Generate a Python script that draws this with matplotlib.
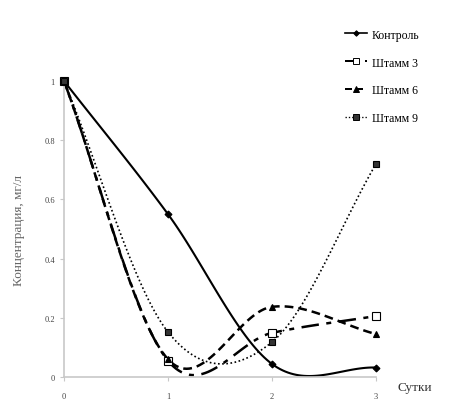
import numpy as np
import matplotlib
matplotlib.use("Agg")
import matplotlib.pyplot as plt
from matplotlib.ticker import FuncFormatter

plt.rcParams['font.family'] = ['Liberation Serif', 'DejaVu Serif']

days = [0, 1, 2, 3]
kontrol = [1.0, 0.55, 0.044, 0.032]
shtamm3 = [1.0, 0.055, 0.149, 0.206]
shtamm6 = [1.0, 0.06, 0.237, 0.145]
shtamm9 = [1.0, 0.152, 0.118, 0.72]
names = ["Контроль", "Штамм 3", "Штамм 6", "Штамм 9"]


def smooth(x, y, n=40):
    # сглаживание как в Excel (Catmull-Rom через кривые Безье)
    x = np.asarray(x, float)
    y = np.asarray(y, float)
    px = np.concatenate([[2 * x[0] - x[1]], x, [2 * x[-1] - x[-2]]])
    py = np.concatenate([[2 * y[0] - y[1]], y, [2 * y[-1] - y[-2]]])
    xs, ys = [], []
    t = np.linspace(0, 1, n)
    for i in range(1, len(px) - 2):
        p0 = np.array([px[i], py[i]])
        p3 = np.array([px[i + 1], py[i + 1]])
        p1 = p0 + (np.array([px[i + 1], py[i + 1]]) - np.array([px[i - 1], py[i - 1]])) / 6
        p2 = p3 - (np.array([px[i + 2], py[i + 2]]) - np.array([px[i], py[i]])) / 6
        b = (np.outer((1 - t) ** 3, p0) + np.outer(3 * (1 - t) ** 2 * t, p1)
             + np.outer(3 * (1 - t) * t ** 2, p2) + np.outer(t ** 3, p3))
        xs.extend(b[:, 0])
        ys.extend(b[:, 1])
    return xs, ys


fig = plt.figure(figsize=(4.54, 4.14), dpi=100)
ax = fig.add_axes([64 / 454, 36 / 414, 312 / 454, 296 / 414])

styles = [
    dict(ls="-", lw=1.5, marker="D", ms=3.5, mfc="black"),
    dict(ls=(0, (7, 3, 2, 3)), lw=1.8, marker="s", ms=6, mfc="white"),
    dict(ls=(0, (3.5, 2)), lw=1.8, marker="^", ms=5, mfc="black"),
    dict(ls=(0, (1, 1.5)), lw=1.2, marker="s", ms=5, mfc="#333333"),
]
series = [kontrol, shtamm3, shtamm6, shtamm9]

for vals, st, name in zip(series, styles, names):
    sx, sy = smooth(days, vals)
    ax.plot(sx, sy, color="black", ls=st["ls"], lw=st["lw"], clip_on=False)
    ax.plot(days, vals, ls="none", marker=st["marker"], ms=st["ms"],
            mfc=st["mfc"], mec="black", mew=0.8, clip_on=False, zorder=5)
    ax.plot([], [], color="black", ls=st["ls"], lw=st["lw"] * 0.8, marker=st["marker"],
            ms=st["ms"] * 0.8, mfc=st["mfc"], mec="black", mew=0.7, label=name)

ax.set_xlim(0, 3)
ax.set_ylim(0, 1)
ax.set_xticks(days)
ax.set_yticks([0, 0.2, 0.4, 0.6, 0.8, 1.0])
ax.yaxis.set_major_formatter(FuncFormatter(lambda v, p: "1" if v == 1 else ("0" if v == 0 else f"{v:.1f}")))
for s in ["top", "right"]:
    ax.spines[s].set_visible(False)
for s in ["left", "bottom"]:
    ax.spines[s].set_color("#c8c8c8")
    ax.spines[s].set_linewidth(1.2)
ax.tick_params(colors="#c8c8c8", labelcolor="#444444", labelsize=6, length=3)
ax.tick_params(axis="x", pad=8)

ax.set_ylabel("Концентрация, мг/л", fontsize=9.5, color="#666666", labelpad=14)
fig.text(398 / 454, 1 - 388 / 414, "Сутки", fontsize=9.5, color="#333333", va="center")

ax.legend(loc="upper left", bbox_to_anchor=(334 / 454, 1 - 19 / 414), bbox_transform=fig.transFigure,
          frameon=False, fontsize=8.5, handlelength=1.9, labelspacing=1.35, handletextpad=0.4)

fig.savefig("out.png", dpi=100)
